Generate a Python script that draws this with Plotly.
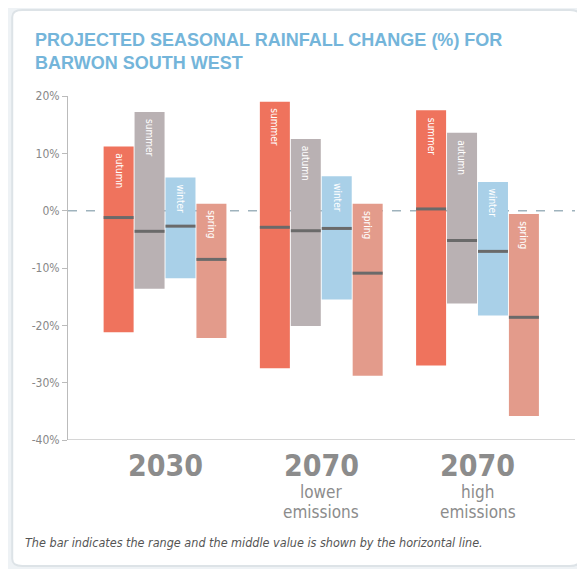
import plotly.graph_objects as go

groups = ["2030", "2070 lower emissions", "2070 high emissions"]
group_main = ["2030", "2070", "2070"]
group_sub1 = ["", "lower", "high"]
group_sub2 = ["", "emissions", "emissions"]
seasons = [["autumn", "summer", "winter", "spring"],
           ["summer", "autumn", "winter", "spring"],
           ["summer", "autumn", "winter", "spring"]]
colors = ["#ef735d", "#b9b1b3", "#a9d0e8", "#e39b8b"]

highs = [[11.2, 17.2, 5.8, 1.2],
         [19.0, 12.5, 6.0, 1.2],
         [17.5, 13.6, 5.0, -0.6]]
lows = [[-21.2, -13.6, -11.8, -22.2],
        [-27.5, -20.1, -15.5, -28.8],
        [-27.0, -16.2, -18.3, -35.8]]
mids = [[-1.2, -3.6, -2.7, -8.5],
        [-2.9, -3.5, -3.1, -10.9],
        [0.3, -5.2, -7.1, -18.6]]

yticks = [20, 10, 0, -10, -20, -30, -40]
ytick_text = ["20%", "10%", "0%", "-10%", "-20%", "-30%", "-40%"]

NARROW = "DejaVu Sans Condensed, Liberation Sans Narrow, Arial Narrow, Liberation Sans"

step = 0.198
bw = 0.192
offsets = [(k - 1.5) * step for k in range(4)]

fig = go.Figure()

for k in range(4):
    xs = [g + offsets[k] for g in range(len(groups))]
    fig.add_trace(go.Bar(
        x=xs,
        y=[highs[g][k] - lows[g][k] for g in range(len(groups))],
        base=[lows[g][k] for g in range(len(groups))],
        width=bw,
        marker=dict(color=colors[k], line=dict(width=0)),
        hoverinfo="skip",
        showlegend=False,
    ))

mx, my = [], []
for g in range(len(groups)):
    for k in range(4):
        c = g + offsets[k]
        mx += [c - bw / 2, c + bw / 2, None]
        my += [mids[g][k], mids[g][k], None]
fig.add_trace(go.Scatter(x=mx, y=my, mode="lines",
                         line=dict(color="#6a6a6a", width=3),
                         hoverinfo="skip", showlegend=False))

annotations = []
for g in range(len(groups)):
    for k in range(4):
        annotations.append(dict(
            x=g + offsets[k], y=highs[g][k], xref="x", yref="y",
            text=seasons[g][k], textangle=90, showarrow=False,
            yanchor="top", yshift=-5,
            font=dict(family=NARROW, size=10, color="white"),
        ))
    annotations.append(dict(
        x=g, y=-0.073, xref="x", yref="paper", text="<b>" + group_main[g] + "</b>",
        showarrow=False, yanchor="middle",
        font=dict(family=NARROW, size=30, color="#8c8c8c"),
    ))
    if group_sub1[g]:
        annotations.append(dict(
            x=g, y=-0.151, xref="x", yref="paper", text=group_sub1[g],
            showarrow=False, yanchor="middle",
            font=dict(family=NARROW, size=17, color="#8c8c8c"),
        ))
        annotations.append(dict(
            x=g, y=-0.209, xref="x", yref="paper", text=group_sub2[g],
            showarrow=False, yanchor="middle",
            font=dict(family=NARROW, size=17, color="#8c8c8c"),
        ))

annotations.append(dict(
    x=-0.089, y=-0.297, xref="paper", yref="paper",
    text="<i>The bar indicates the range and the middle value is shown by the horizontal line.</i>",
    showarrow=False, xanchor="left", yanchor="middle",
    font=dict(family=NARROW, size=12.5, color="#555555"),
))
annotations.append(dict(
    x=-0.07, y=1.13, xref="paper", yref="paper",
    text="<b>PROJECTED SEASONAL RAINFALL CHANGE (%) FOR<br>BARWON SOUTH WEST</b>",
    showarrow=False, xanchor="left", yanchor="middle", align="left",
    font=dict(family="Liberation Sans", size=18, color="#74b5da"),
))

x0, x1, y0, y1, r = -0.11, 1.01, -0.366, 1.25, 0.02
shapes = [
    dict(type="path", xref="paper", yref="paper", layer="below",
         path=(f"M {x0+r} {y1} L {x1-r} {y1} Q {x1} {y1} {x1} {y1-r} "
               f"L {x1} {y0+r} Q {x1} {y0} {x1-r} {y0} L {x0+r} {y0} "
               f"Q {x0} {y0} {x0} {y0+r} L {x0} {y1-r} Q {x0} {y1} {x0+r} {y1} Z"),
         fillcolor="white", line=dict(color="#dde3e7", width=2)),
    dict(type="line", xref="paper", yref="y", x0=0, x1=1, y0=0, y1=0,
         line=dict(color="#9fb3bd", width=1.5, dash="dash"), layer="below"),
    dict(type="line", xref="paper", yref="y", x0=0, x1=1, y0=-40, y1=-40,
         line=dict(color="#c8c8c8", width=1.5)),
]

fig.update_layout(
    width=577, height=561,
    margin=dict(l=60, r=10, t=88, b=129),
    paper_bgcolor="#eef2f5",
    plot_bgcolor="rgba(0,0,0,0)",
    barmode="overlay",
    annotations=annotations,
    shapes=shapes,
    xaxis=dict(range=[-0.621, 2.624], showticklabels=False, showgrid=False,
               zeroline=False, ticks="", showline=False, fixedrange=True),
    yaxis=dict(range=[-40, 20], tickvals=yticks, ticktext=ytick_text,
               showgrid=False, zeroline=False, ticks="outside", ticklen=5,
               tickcolor="#bbbbbb", showline=True, linecolor="#bbbbbb", linewidth=1,
               tickfont=dict(family=NARROW, size=12, color="#888888")),
)

fig.write_html("out.html")
